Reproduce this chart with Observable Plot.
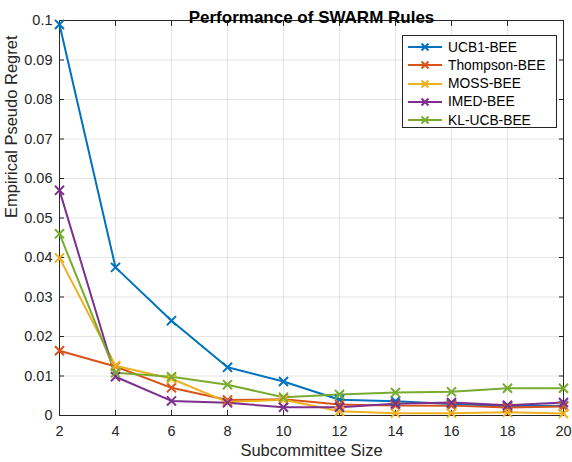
<!DOCTYPE html>
<html>
<head>
<meta charset="utf-8">
<script src="https://cdn.jsdelivr.net/npm/d3@7"></script>
<script src="https://cdn.jsdelivr.net/npm/@observablehq/plot@0.6"></script>
<style>
  body { margin: 0; background: #fff; font-family: "Liberation Sans", Arial, sans-serif; }
  #wrap { position: relative; width: 572px; height: 462px; }
  #legend { position: absolute; left: 402px; top: 35px; width: 155px; height: 93px; border: 1px solid #262626; background: #fff; box-sizing: border-box; }
  .row { position: absolute; left: 0; height: 18px; display: flex; align-items: center; font-size: 13.8px; color: #000; white-space: nowrap; }
</style>
</head>
<body>
<div id="wrap"><div id="chart"></div><div id="legend"></div></div>
<script>
const sizes = [2, 4, 6, 8, 10, 12, 14, 16, 18, 20];
const seriesNames = ["UCB1-BEE", "Thompson-BEE", "MOSS-BEE", "IMED-BEE", "KL-UCB-BEE"];
const colors = ["#0072BD", "#D95319", "#EDB120", "#7E2F8E", "#77AC30"];
const ucb1     = [0.0990, 0.0375, 0.0240, 0.0122, 0.0086, 0.0040, 0.0036, 0.0029, 0.0024, 0.0025];
const thompson = [0.0164, 0.0124, 0.0070, 0.0039, 0.0041, 0.0028, 0.0025, 0.0025, 0.0020, 0.0023];
const moss     = [0.0399, 0.0126, 0.0093, 0.0034, 0.0040, 0.0011, 0.0006, 0.0006, 0.0008, 0.0005];
const imed     = [0.0570, 0.0098, 0.0037, 0.0032, 0.0021, 0.0021, 0.0030, 0.0033, 0.0026, 0.0033];
const klucb    = [0.0460, 0.0108, 0.0098, 0.0078, 0.0046, 0.0053, 0.0058, 0.0060, 0.0069, 0.0069];
const yTicks = [0, 0.01, 0.02, 0.03, 0.04, 0.05, 0.06, 0.07, 0.08, 0.09, 0.1];
const xTicks = sizes;
const title = "Performance of SWARM Rules";
const xLabel = "Subcommittee Size";
const yLabel = "Empirical Pseudo Regret";

const allSeries = [ucb1, thompson, moss, imed, klucb];
const data = [];
allSeries.forEach((vals, i) => vals.forEach((v, j) => data.push({series: seriesNames[i], size: sizes[j], value: v})));

const fmt = d => String(+d.toFixed(2));
const axisColor = "#262626";

const chart = Plot.plot({
  width: 572,
  height: 462,
  marginLeft: 59,
  marginRight: 9,
  marginTop: 20,
  marginBottom: 47,
  style: { fontFamily: "'Liberation Sans', Arial, sans-serif", background: "#fff" },
  x: { domain: [2, 20] },
  y: { domain: [0, 0.1] },
  color: { domain: seriesNames, range: colors },
  marks: [
    Plot.gridX(xTicks, { stroke: "#000", strokeOpacity: 0.13, strokeWidth: 0.8 }),
    Plot.gridY(yTicks, { stroke: "#000", strokeOpacity: 0.13, strokeWidth: 0.8 }),
    Plot.axisX(xTicks, { anchor: "bottom", tickSize: -5, tickPadding: 15, tickFormat: fmt, fontSize: 14.5, stroke: axisColor, color: axisColor, label: null }),
    Plot.axisX(xTicks, { anchor: "top", tickSize: -5, tickFormat: () => "", stroke: axisColor, label: null }),
    Plot.axisY(yTicks, { anchor: "left", tickSize: -5, tickPadding: 12, tickFormat: fmt, fontSize: 14.5, stroke: axisColor, color: axisColor, label: null }),
    Plot.axisY(yTicks, { anchor: "right", tickSize: -5, tickFormat: () => "", stroke: axisColor, label: null }),
    Plot.frame({ stroke: axisColor, strokeWidth: 1 }),
    Plot.line(data, { x: "size", y: "value", z: "series", stroke: "series", strokeWidth: 2 }),
    Plot.dot(data, { x: "size", y: "value", stroke: "series", symbol: "times", r: 4.2, strokeWidth: 2 }),
    Plot.text([title], { frameAnchor: "top", text: d => d, dy: -10, fontSize: 17, fontWeight: "bold", fill: "#000" }),
    Plot.text([xLabel], { frameAnchor: "bottom", text: d => d, dy: 40, fontSize: 16.5, fill: "#262626" }),
    Plot.text([yLabel], { frameAnchor: "left", text: d => d, rotate: -90, dx: -48, fontSize: 16.5, fill: "#262626" })
  ]
});
document.getElementById("chart").appendChild(chart);

const legend = document.getElementById("legend");
seriesNames.forEach((name, i) => {
  const row = document.createElement("div");
  row.className = "row";
  row.style.top = (2 + i * 18.3) + "px";
  row.innerHTML = `<svg width="41" height="18" style="margin-left:4px"><line x1="1" y1="9" x2="35" y2="9" stroke="${colors[i]}" stroke-width="2.2"/><path d="M14.5,5.5L21.5,12.5M14.5,12.5L21.5,5.5" stroke="${colors[i]}" stroke-width="2"/></svg><span>${name}</span>`;
  legend.appendChild(row);
});
</script>
</body>
</html>
